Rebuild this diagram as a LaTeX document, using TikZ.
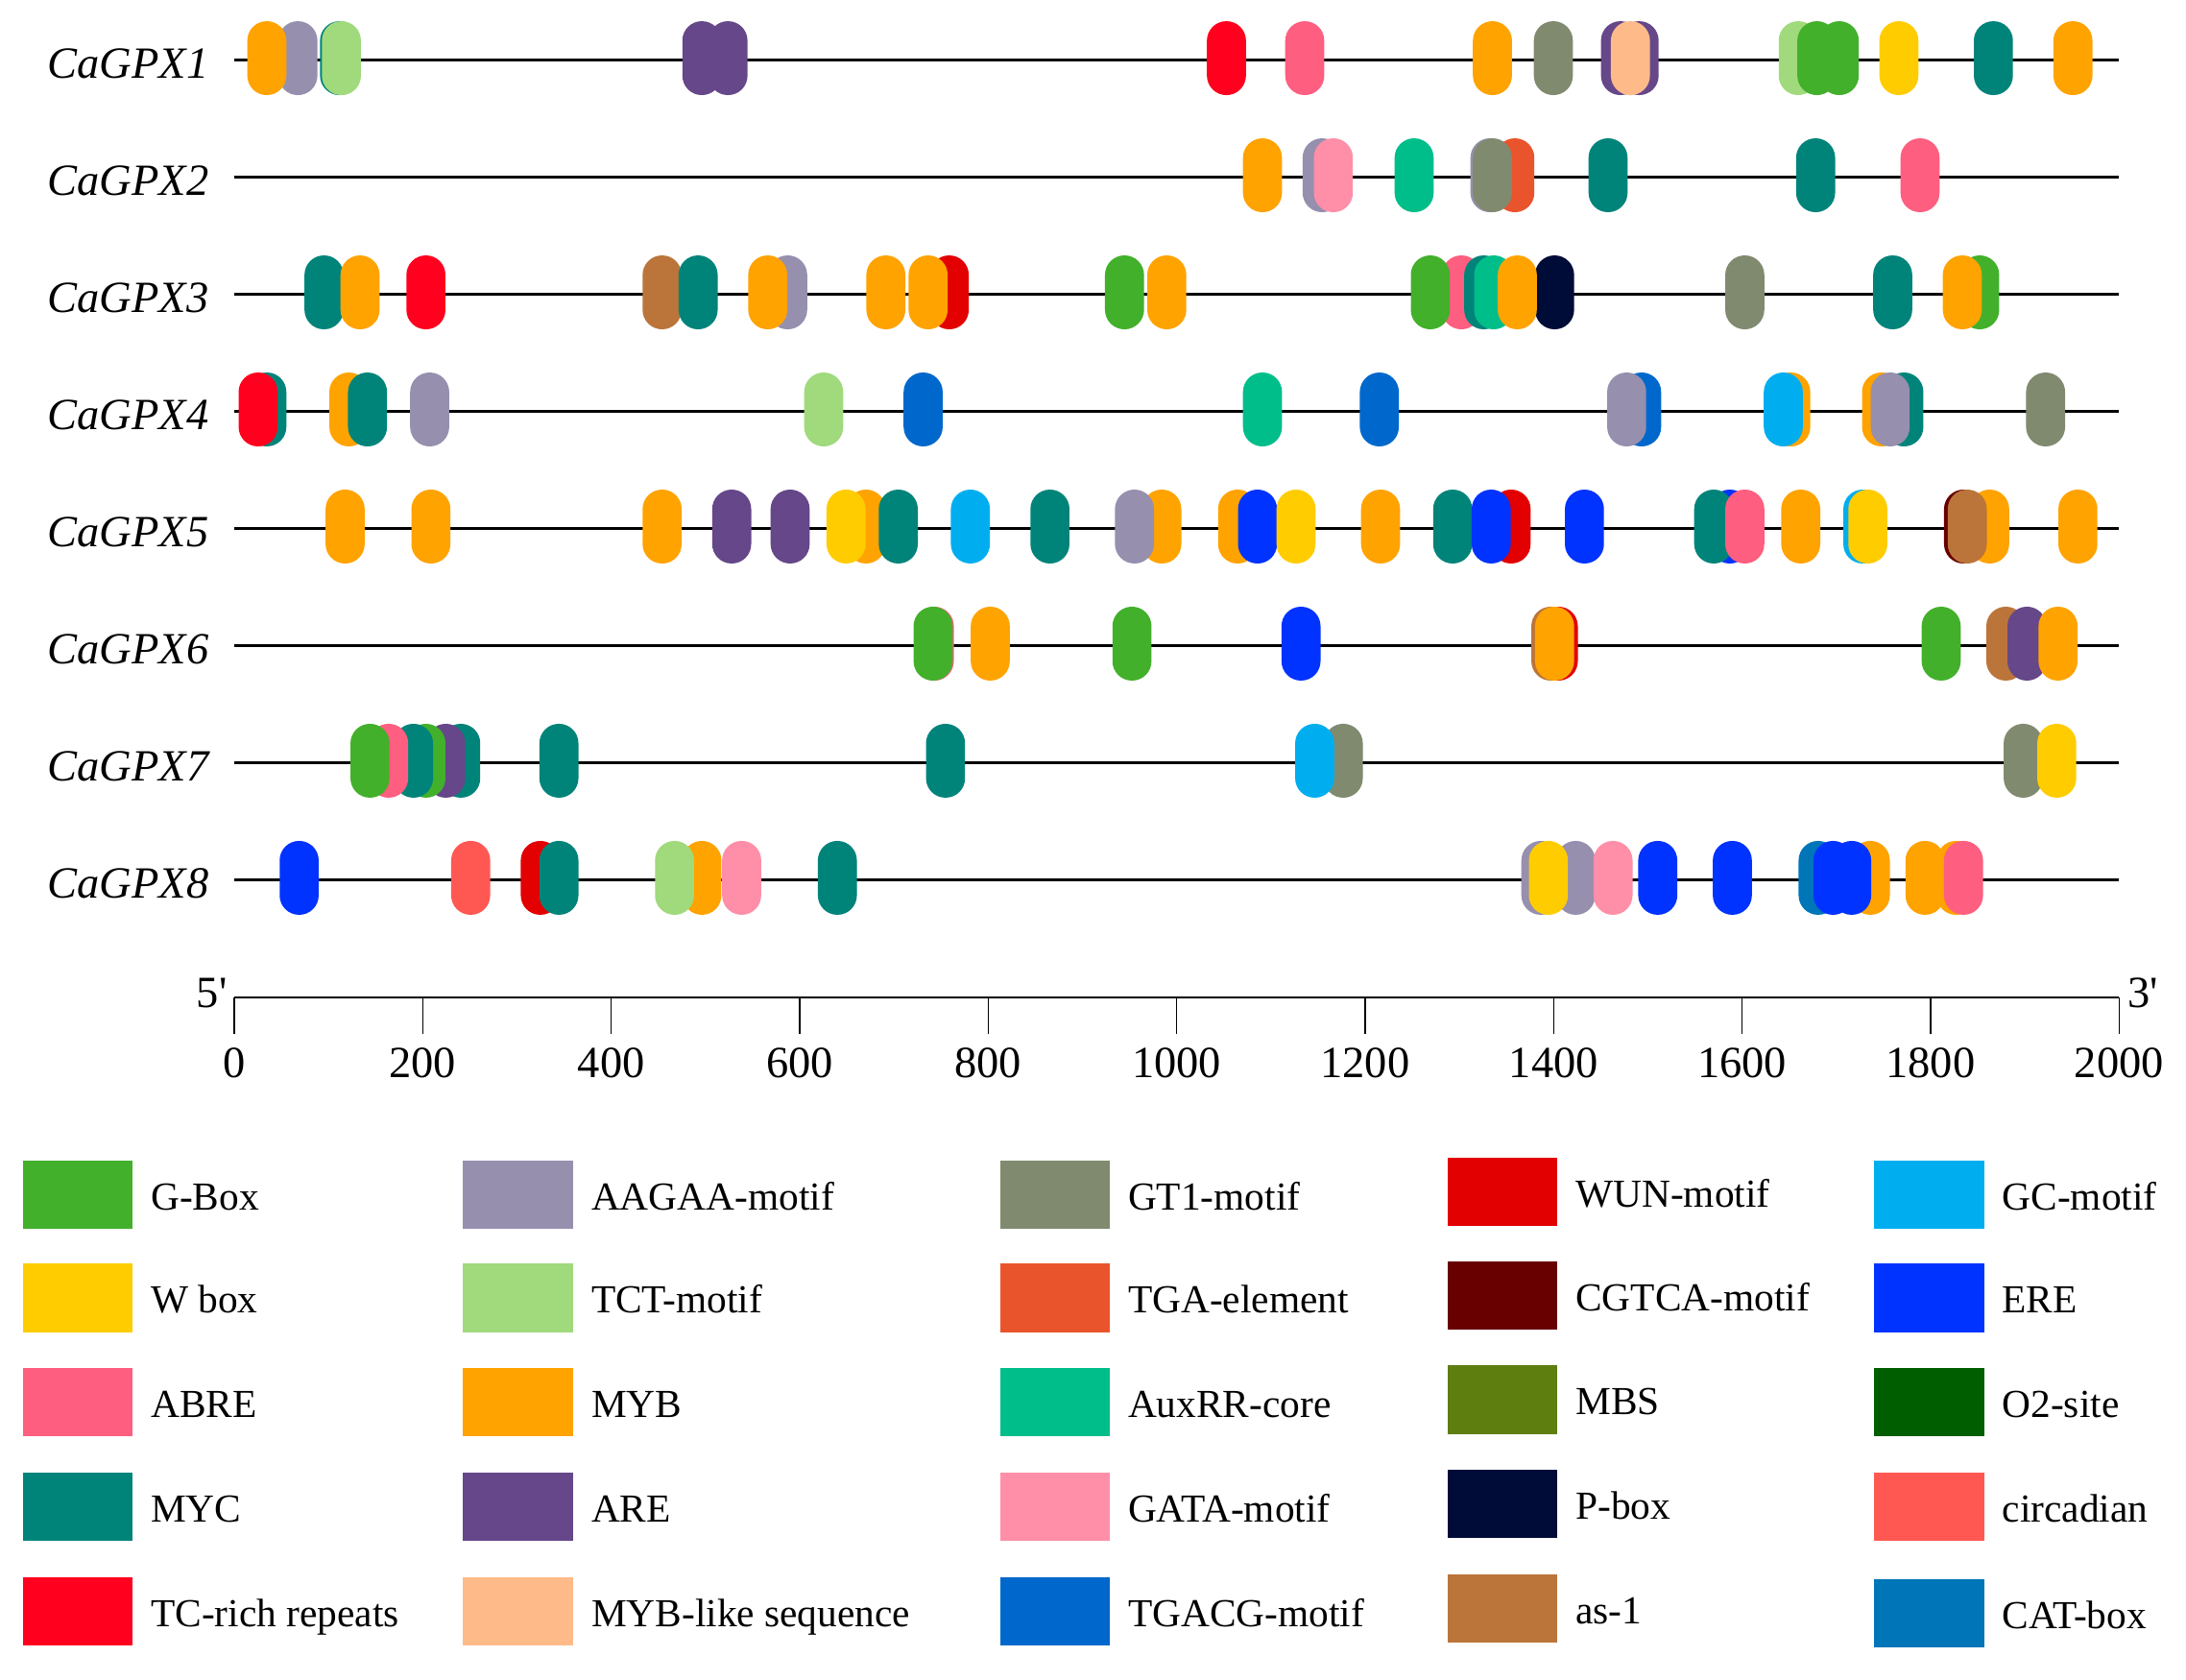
\documentclass[tikz,border=0pt]{standalone}
\usepackage{fontspec}
\setmainfont{Liberation Serif}
\definecolor{cGBox}{RGB}{66,176,43}
\definecolor{cWbox}{RGB}{255,204,0}
\definecolor{cABRE}{RGB}{254,94,128}
\definecolor{cMYC}{RGB}{0,132,122}
\definecolor{cTCrich}{RGB}{255,0,30}
\definecolor{cAAGAA}{RGB}{150,143,174}
\definecolor{cTCT}{RGB}{160,218,124}
\definecolor{cMYB}{RGB}{255,163,0}
\definecolor{cARE}{RGB}{102,71,137}
\definecolor{cMYBlike}{RGB}{255,186,138}
\definecolor{cGT}{RGB}{128,138,111}
\definecolor{cTGA}{RGB}{234,84,44}
\definecolor{cAuxRR}{RGB}{0,190,138}
\definecolor{cGATA}{RGB}{255,143,168}
\definecolor{cTGACG}{RGB}{0,104,204}
\definecolor{cWUN}{RGB}{226,0,0}
\definecolor{cCGTCA}{RGB}{104,0,0}
\definecolor{cMBS}{RGB}{95,126,16}
\definecolor{cPbox}{RGB}{0,12,56}
\definecolor{cAsone}{RGB}{187,117,58}
\definecolor{cGC}{RGB}{0,174,240}
\definecolor{cERE}{RGB}{0,51,255}
\definecolor{cOtwo}{RGB}{0,94,0}
\definecolor{cCirc}{RGB}{255,88,82}
\definecolor{cCAT}{RGB}{0,117,184}
\newcommand\motif[3]{%
  \pgfmathsetmacro\mxx{158.4+0.8916*#2}%
  \fill[#3,rounded corners=13.9pt] (\mxx-14,#1-28) rectangle (\mxx+14,#1+25);}
\newcommand\legent[5]{%
  \node[legbox,fill=#4,anchor=west] (#1) at (#2,#3) {};
  \node[leg] (#1-t) at (#2+92,#3+11) {#5};}
\begin{document}
\begin{tikzpicture}[x=1pt,y=-1pt,
  gene/.style={font=\fontsize{32}{38}\selectfont\itshape,anchor=base east,inner sep=0pt},
  ticklab/.style={font=\fontsize{32}{38}\selectfont,anchor=base,inner sep=0pt},
  leg/.style={font=\fontsize{28.5}{34}\selectfont,anchor=base west,inner sep=0pt},
  legbox/.style={minimum width=79pt,minimum height=49pt,inner sep=0pt,draw=none},
  dna/.style={line width=2pt,black},
  axisline/.style={line width=1.4pt,black},
  tickline/.style={line width=1.1pt,black}]
\useasboundingbox[fill=white] (0,0) rectangle (1568,1205);

% gene lines and names
\foreach \i/\yy in {1/43.2,2/127.2,3/211.2,4/295.2,5/379.2,6/463.2,7/547.2,8/631.2}{
  \coordinate (g\i s) at (168,\yy);
  \coordinate (g\i e) at (1520,\yy);
  \draw[dna] (g\i s) -- (g\i e);
  \node[gene] (lab\i) at (150,\yy+13) {CaGPX\i};
}

% motifs
\foreach \p/\mc in {62/cAAGAA,37/cMYB,95.5/cMYC,97/cTCT,387/cARE,408/cARE,809/cTCrich,872/cABRE,1023/cMYB,1072/cGT,1126/cARE,1141/cARE,1134/cMYBlike,1269/cTCT,1302/cGBox,1284/cGBox,1350/cWbox,1426/cMYC,1490/cMYB}
  {\motif{43.2}{\p}{\mc}}
\foreach \p/\mc in {838/cMYB,886/cAAGAA,895/cGATA,960/cAuxRR,1041/cTGA,1021/cAAGAA,1023/cGT,1116/cMYC,1283/cMYC,1367/cABRE}
  {\motif{127.2}{\p}{\mc}}
\foreach \p/\mc in {83/cMYC,112/cMYB,165/cTCrich,355/cAsone,384/cMYC,456/cAAGAA,440/cMYB,535/cMYB,586/cWUN,569/cMYB,727/cGBox,761/cMYB,998/cABRE,973/cGBox,1016/cMYC,1024/cAuxRR,1073/cPbox,1043/cMYB,1226/cGT,1345/cMYC,1415/cGBox,1401/cMYB}
  {\motif{211.2}{\p}{\mc}}
\foreach \p/\mc in {37/cMYC,30/cTCrich,103/cMYB,118/cMYC,168/cAAGAA,485/cTCT,565/cTGACG,838/cAuxRR,932/cTGACG,1143/cTGACG,1131/cAAGAA,1263/cMYB,1257/cGC,1336/cMYB,1354/cMYC,1343/cAAGAA,1468/cGT}
  {\motif{295.2}{\p}{\mc}}
\foreach \p/\mc in {100/cMYB,169/cMYB,355/cMYB,411/cARE,458/cARE,519/cMYB,503/cWbox,545/cMYC,603/cGC,667/cMYC,757/cMYB,735/cAAGAA,818/cMYB,834/cERE,865/cWbox,933/cMYB,991/cMYC,1038/cWUN,1022/cERE,1097/cERE,1214/cERE,1201/cMYC,1226/cABRE,1271/cMYB,1321/cGC,1325/cWbox,1402/cCGTCA,1423/cMYB,1405/cAsone,1494/cMYB}
  {\motif{379.2}{\p}{\mc}}
\foreach \p/\mc in {574/cABRE,573/cGBox,619/cMYB,733/cGBox,869/cERE,1070/cAsone,1076/cWUN,1073/cMYB,1384/cGBox,1436/cAsone,1453/cARE,1478/cMYB}
  {\motif{463.2}{\p}{\mc}}
\foreach \p/\mc in {193/cMYC,181/cARE,165/cGBox,155/cMYC,135/cABRE,120/cGBox,272/cMYC,583/cMYC,903/cGT,880/cGC,1450/cGT,1477/cWbox}
  {\motif{547.2}{\p}{\mc}}
\foreach \p/\mc in {63/cERE,201/cCirc,257/cWUN,272/cMYC,387/cMYB,365/cTCT,419/cGATA,496/cMYC,1062/cAAGAA,1090/cAAGAA,1068/cWbox,1120/cGATA,1156/cERE,1216/cERE,1285/cCAT,1327/cMYB,1297/cERE,1312/cERE,1371/cMYB,1396/cMYB,1402/cABRE}
  {\motif{631.2}{\p}{\mc}}

% scale axis
\coordinate (ax0) at (168,715.5);
\coordinate (ax1) at (1520,715.5);
\draw[axisline] (ax0) -- (ax1);
\foreach \k in {0,...,10}{
  \coordinate (tk\k) at (168+135.2*\k,715.5);
  \draw[tickline] (tk\k) -- ++(0,26);
  \pgfmathtruncatemacro\lab{200*\k}
  \node[ticklab] (tl\k) at (168+135.2*\k,773) {\lab};
}
\node[font=\fontsize{32}{38}\selectfont,anchor=base east,inner sep=0pt] (five) at (163,723) {5\textquotesingle};
\node[font=\fontsize{32}{38}\selectfont,anchor=base west,inner sep=0pt] (three) at (1526,723) {3\textquotesingle};

% legend
\legent{lgbox}{16}{857}{cGBox}{G-Box}
\legent{lwbox}{16}{931}{cWbox}{W box}
\legent{labre}{16}{1006}{cABRE}{ABRE}
\legent{lmyc}{16}{1080.5}{cMYC}{MYC}
\legent{ltc}{16}{1156}{cTCrich}{TC-rich repeats}
\legent{laagaa}{332}{857}{cAAGAA}{AAGAA-motif}
\legent{ltct}{332}{931}{cTCT}{TCT-motif}
\legent{lmyb}{332}{1006}{cMYB}{MYB}
\legent{lare}{332}{1080.5}{cARE}{ARE}
\legent{lmyblike}{332}{1156}{cMYBlike}{MYB-like sequence}
\legent{lgt}{717}{857}{cGT}{GT1-motif}
\legent{ltga}{717}{931}{cTGA}{TGA-element}
\legent{laux}{717}{1006}{cAuxRR}{AuxRR-core}
\legent{lgata}{717}{1080.5}{cGATA}{GATA-motif}
\legent{ltgacg}{717}{1156}{cTGACG}{TGACG-motif}
\legent{lwun}{1038}{855}{cWUN}{WUN-motif}
\legent{lcgtca}{1038}{929}{cCGTCA}{CGTCA-motif}
\legent{lmbs}{1038}{1004}{cMBS}{MBS}
\legent{lpbox}{1038}{1079}{cPbox}{P-box}
\legent{las}{1038}{1154}{cAsone}{as-1}
\legent{lgc}{1344}{857}{cGC}{GC-motif}
\legent{lere}{1344}{931}{cERE}{ERE}
\legent{lotwo}{1344}{1006}{cOtwo}{O2-site}
\legent{lcirc}{1344}{1081}{cCirc}{circadian}
\legent{lcat}{1344}{1157}{cCAT}{CAT-box}
\end{tikzpicture}
\end{document}
